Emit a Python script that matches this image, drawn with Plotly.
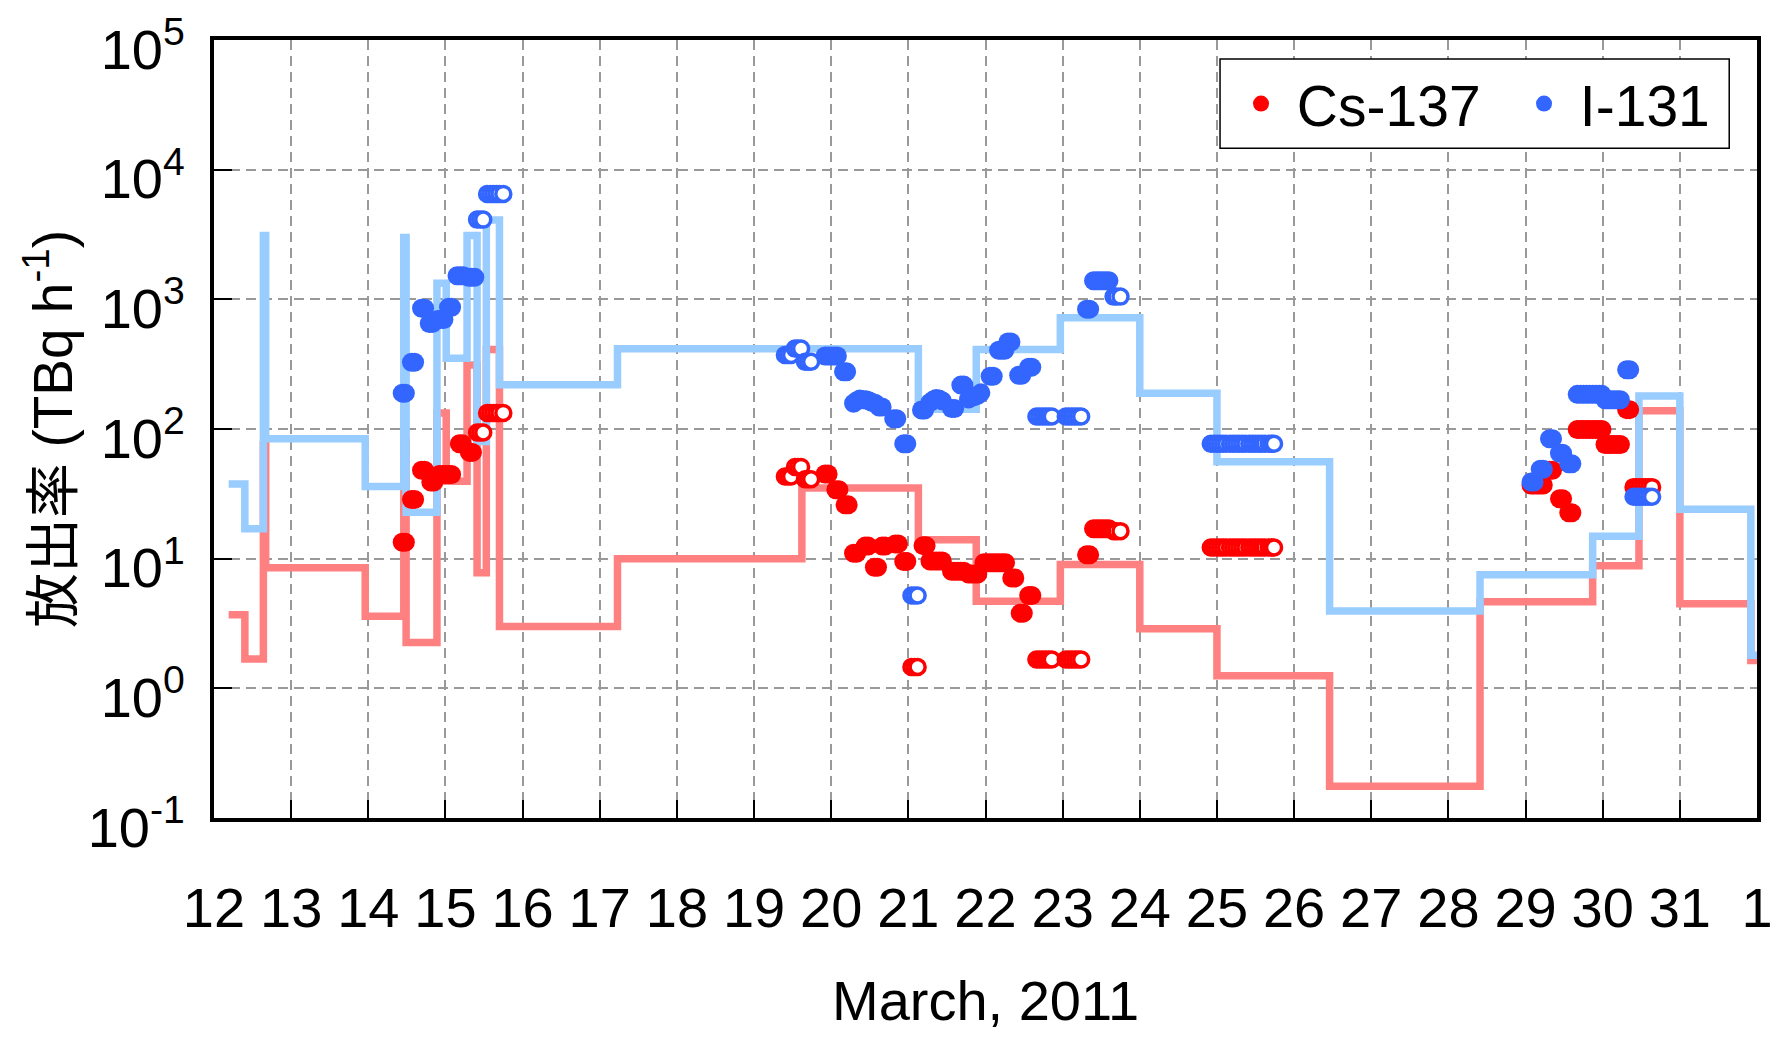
import plotly.graph_objects as go

# ---------------- data ----------------
# step lines (start time of each interval, value); day of March 2011 (32 = April 1)
i131_step_t = [12.19, 12.40, 12.64, 12.67, 13.96, 14.46, 14.49, 14.89, 15.01, 15.28, 15.41, 15.53, 15.70,
               17.23, 21.13, 21.88, 22.97, 24.00, 25.00, 26.46, 28.41, 29.87, 30.47, 31.00, 31.92, 32.00]
i131_step_v = [37.7, 17.0, 3100, 84, 36, 3000, 22.8, 1330, 352, 3100, 80, 4100, 219,
               415, 142, 410, 720, 189, 56, 3.95, 7.5, 14.9, 180, 24, 1.8, 1.8]

cs137_step_t = [12.19, 12.40, 12.64, 12.67, 13.96, 14.46, 14.49, 14.89, 15.01, 15.28, 15.41, 15.53, 15.70,
                17.23, 19.62, 21.13, 21.88, 22.97, 24.00, 25.00, 26.46, 28.41, 29.87, 30.47, 31.00, 31.92, 32.00]
cs137_step_v = [3.7, 1.68, 76, 8.5, 3.6, 80, 2.26, 133, 39.5, 312, 7.8, 410, 3.0,
                10, 35, 14, 4.7, 9.0, 2.88, 1.25, 0.176, 4.66, 8.8, 138, 4.5, 1.64, 1.64]

# filled markers
i131_pt_t = [14.44, 14.48, 14.56, 14.60, 14.69, 14.73, 14.79, 14.83, 14.90, 14.94, 14.98, 15.04, 15.08,
             15.15, 15.19, 15.23, 15.30, 15.34, 15.38,
             19.92, 19.96, 20.00, 20.04, 20.08, 20.16, 20.20,
             20.29, 20.33, 20.37, 20.41, 20.45, 20.49, 20.53, 20.57, 20.62, 20.66,
             20.81, 20.85, 20.94, 20.98, 21.17, 21.21,
             21.28, 21.32, 21.36, 21.40, 21.44, 21.56, 21.60, 21.68, 21.72,
             21.78, 21.82, 21.86, 21.90, 21.94, 22.06, 22.10,
             22.17, 22.21, 22.25, 22.29, 22.33, 22.43, 22.47, 22.56, 22.60,
             23.31, 23.35, 23.40, 23.44, 23.48, 23.52, 23.56, 23.60,
             29.07, 29.11, 29.19, 29.23, 29.31, 29.35, 29.44, 29.48, 29.56, 29.60,
             29.67, 29.71, 29.75, 29.79, 29.83, 29.87, 29.91, 29.95, 29.99,
             30.03, 30.07, 30.11, 30.15, 30.19, 30.23, 30.31, 30.35]
i131_pt_v = [189, 189, 327, 327, 855, 855, 650, 650, 700, 700, 700, 870, 870,
             1520, 1520, 1520, 1480, 1480, 1480,
             365, 365, 365, 365, 365, 276, 276,
             158, 165, 170, 168, 168, 165, 160, 158, 148, 148,
             120, 120, 77, 77, 140, 140,
             160, 167, 172, 170, 165, 144, 144, 218, 218,
             170, 175, 178, 182, 190, 255, 255,
             405, 405, 405, 468, 468, 260, 260, 300, 300,
             840, 840, 1390, 1390, 1390, 1390, 1390, 1390,
             39, 39, 49, 49, 84, 84, 65, 65, 54, 54,
             185, 185, 185, 185, 185, 185, 185, 185, 185,
             168, 168, 168, 168, 168, 168, 286, 286]

cs137_pt_t = [14.44, 14.48, 14.56, 14.60, 14.69, 14.73, 14.81, 14.85, 14.92, 14.96, 15.00, 15.04, 15.08,
              15.18, 15.22, 15.31, 15.35,
              19.92, 19.96, 20.06, 20.10, 20.18, 20.22, 20.29, 20.33, 20.44, 20.48, 20.56, 20.60,
              20.66, 20.70, 20.83, 20.87, 20.94, 20.98, 21.19, 21.23,
              21.28, 21.32, 21.36, 21.40, 21.44, 21.56, 21.60, 21.64, 21.68, 21.72,
              21.78, 21.82, 21.86, 21.90, 21.98, 22.02, 22.06, 22.10, 22.14, 22.18, 22.22, 22.26,
              22.34, 22.38, 22.45, 22.49, 22.56, 22.60,
              23.31, 23.35, 23.40, 23.44, 23.48, 23.52, 23.56, 23.60,
              29.07, 29.11, 29.15, 29.19, 29.23, 29.31, 29.35, 29.44, 29.48, 29.56, 29.60,
              29.67, 29.71, 29.75, 29.79, 29.83, 29.87, 29.91, 29.95, 29.99,
              30.03, 30.07, 30.11, 30.15, 30.19, 30.23, 30.31, 30.35]
cs137_pt_v = [13.4, 13.4, 28.6, 28.6, 48, 48, 39, 39, 44.6, 44.6, 44.6, 44.6, 44.6,
              77, 77, 66, 66,
              45, 45, 34, 34, 26, 26, 11, 11, 12.5, 12.5, 8.6, 8.6,
              12.5, 12.5, 13, 13, 9.5, 9.5, 12.6, 12.6,
              9.6, 9.6, 9.6, 9.6, 9.6, 8.0, 8.0, 8.0, 8.0, 8.0,
              7.6, 7.6, 7.6, 7.6, 9.3, 9.3, 9.3, 9.3, 9.3, 9.3, 9.3, 9.3,
              7.1, 7.1, 3.8, 3.8, 5.2, 5.2,
              10.7, 10.7, 17, 17, 17, 17, 17, 17,
              37, 37, 37, 37, 37, 48, 48, 29, 29, 22.6, 22.6,
              99, 99, 99, 99, 99, 99, 99, 99, 99,
              76, 76, 76, 76, 76, 76, 141, 141]

# open markers
i131_open_t = [15.41, 15.45, 15.49, 15.54, 15.58, 15.62, 15.66, 15.70, 15.75,
               19.40, 19.44, 19.48, 19.53, 19.57, 19.61, 19.66, 19.70, 19.74,
               21.04, 21.08, 21.12,
               22.66, 22.70, 22.74, 22.78, 22.82, 22.86, 23.04, 23.08, 23.12, 23.16, 23.20, 23.24,
               23.66, 23.70, 23.75,
               24.92, 24.96, 25.00, 25.04, 25.08, 25.12, 25.17, 25.21, 25.25, 25.29, 25.33,
               25.37, 25.42, 25.46, 25.50, 25.54, 25.58, 25.62, 25.67, 25.71, 25.74,
               30.40, 30.44, 30.48, 30.52, 30.56, 30.60, 30.64]
i131_open_v = [4120, 4120, 4120, 6500, 6500, 6500, 6500, 6500, 6500,
               372, 372, 372, 417, 417, 417, 330, 330, 330,
               5.2, 5.2, 5.2,
               125, 125, 125, 125, 125, 125, 125, 125, 125, 125, 125, 125,
               1050, 1050, 1050,
               77, 77, 77, 77, 77, 77, 77, 77, 77, 77, 77,
               77, 77, 77, 77, 77, 77, 77, 77, 77, 77,
               30, 30, 30, 30, 30, 30, 30]

cs137_open_t = i131_open_t
cs137_open_v = [94, 94, 94, 133, 133, 133, 133, 133, 133,
                43, 43, 43, 51, 51, 51, 41, 41, 41,
                1.46, 1.46, 1.46,
                1.67, 1.67, 1.67, 1.67, 1.67, 1.67, 1.67, 1.67, 1.67, 1.67, 1.67, 1.67,
                16.3, 16.3, 16.3,
                12.2, 12.2, 12.2, 12.2, 12.2, 12.2, 12.2, 12.2, 12.2, 12.2, 12.2,
                12.2, 12.2, 12.2, 12.2, 12.2, 12.2, 12.2, 12.2, 12.2, 12.2,
                35.6, 35.6, 35.6, 35.6, 35.6, 35.6, 35.6]

x_tick_vals = list(range(12, 33))
x_tick_text = [str(d) for d in range(12, 32)] + ["1"]
y_tick_vals = [0.1, 1, 10, 100, 1000, 10000, 100000]
y_tick_text = ["10<sup>-1</sup>", "10<sup>0</sup>", "10<sup>1</sup>", "10<sup>2</sup>",
               "10<sup>3</sup>", "10<sup>4</sup>", "10<sup>5</sup>"]

# ---------------- styles ----------------
RED = "#FF0000"
BLUE = "#3366FF"
RED_LINE = "#FF8080"
BLUE_LINE = "#99CCFF"
FONT = "Liberation Sans, Arial, Noto Sans CJK JP, sans-serif"
NB = "\u00a0"

fig = go.Figure()
fig.add_trace(go.Scatter(x=cs137_step_t, y=cs137_step_v, mode="lines", line_shape="hv",
                         line=dict(color=RED_LINE, width=7.5), showlegend=False, hoverinfo="skip"))
fig.add_trace(go.Scatter(x=i131_step_t, y=i131_step_v, mode="lines", line_shape="hv",
                         line=dict(color=BLUE_LINE, width=7.5), showlegend=False, hoverinfo="skip"))
fig.add_trace(go.Scatter(x=cs137_pt_t, y=cs137_pt_v, mode="markers", name=NB + "Cs-137",
                         marker=dict(color=RED, size=19, line=dict(width=0))))
fig.add_trace(go.Scatter(x=cs137_open_t, y=cs137_open_v, mode="markers", showlegend=False,
                         marker=dict(color="white", size=15, line=dict(color=RED, width=3.5))))
fig.add_trace(go.Scatter(x=i131_pt_t, y=i131_pt_v, mode="markers", name=NB + "I-131",
                         marker=dict(color=BLUE, size=19, line=dict(width=0))))
fig.add_trace(go.Scatter(x=i131_open_t, y=i131_open_v, mode="markers", showlegend=False,
                         marker=dict(color="white", size=15, line=dict(color=BLUE, width=3.5))))

axis_common = dict(showline=True, linewidth=4, linecolor="black", mirror=True,
                   ticks="inside", ticklen=18, tickwidth=2, tickcolor="black",
                   showgrid=True, gridcolor="#999999", gridwidth=1.5, griddash="10px,6px",
                   zeroline=False, automargin=False, ticklabeloverflow="allow",
                   tickfont=dict(family=FONT, size=56, color="black"))

fig.update_xaxes(range=[12, 32], tickmode="array", tickvals=x_tick_vals, ticktext=x_tick_text,
                 ticklabelstandoff=38, **axis_common)
fig.update_yaxes(type="log", range=[-1, 5], tickmode="array", tickvals=y_tick_vals, ticktext=y_tick_text,
                 ticklabelstandoff=14, ticklabelshift=9, **axis_common)

fig.add_annotation(text="放出率 (TBq h<sup>-1</sup>)", xref="paper", yref="paper", x=-0.107, y=0.5,
                   xanchor="center", yanchor="middle", textangle=-90, showarrow=False,
                   font=dict(family=FONT, size=55, color="black"))
fig.add_annotation(text="March, 2011", xref="paper", yref="paper", x=0.5, y=-0.235,
                   xanchor="center", yanchor="middle", showarrow=False,
                   font=dict(family=FONT, size=56, color="black"))

# legend frame
fig.add_shape(type="rect", xref="paper", yref="paper", x0=0.652, x1=0.982, y0=0.861, y1=0.9756,
              fillcolor="white", line=dict(color="black", width=1.5), layer="above")

fig.update_layout(
    width=1772, height=1029, autosize=False,
    margin=dict(l=206, r=23, t=32, b=219, autoexpand=False),
    plot_bgcolor="white", paper_bgcolor="white",
    legend=dict(orientation="h", x=0.6656, y=0.9177, xanchor="left", yanchor="middle",
                bgcolor="rgba(0,0,0,0)", borderwidth=0,
                font=dict(family=FONT, size=57, color="black"),
                entrywidth=238, entrywidthmode="pixels", itemsizing="trace"),
)

fig.write_html("out.html")
